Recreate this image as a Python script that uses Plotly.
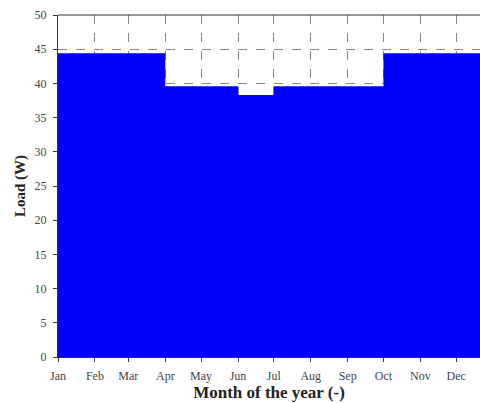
import plotly.graph_objects as go

# Monthly load profile (W), one value per month
months = ["Jan", "Feb", "Mar", "Apr", "May", "Jun",
          "Jul", "Aug", "Sep", "Oct", "Nov", "Dec"]
month_start_day = [0, 31, 59, 90, 120, 151, 181, 212, 243, 273, 304, 334]
year_end_day = 365
load_w = [44.4, 44.4, 44.4, 39.6, 39.6, 38.3,
          39.6, 39.6, 39.6, 44.4, 44.4, 44.4]

y_ticks = list(range(0, 51, 5))

# Step profile: each month's value held until the next month starts
x_steps = month_start_day + [year_end_day]
y_steps = load_w + [load_w[-1]]

fig = go.Figure()
fig.add_trace(go.Scatter(
    x=x_steps, y=y_steps,
    mode="lines",
    line=dict(shape="hv", color="#0000ff", width=0),
    fill="tozeroy",
    fillcolor="#0000ff",
    hoverinfo="skip",
))

serif = "Liberation Serif, DejaVu Serif, serif"

# Top frame line (the right side stays open)
fig.add_shape(type="line", xref="paper", yref="paper",
              x0=0, x1=1, y0=1, y1=1,
              line=dict(color="#333", width=1))

fig.update_layout(
    width=480, height=403,
    margin=dict(l=58, r=0, t=15, b=46),
    paper_bgcolor="white",
    plot_bgcolor="white",
    showlegend=False,
    font=dict(family=serif, size=12, color="#222"),
    xaxis=dict(
        range=[0, 354],
        tickmode="array",
        tickvals=month_start_day,
        ticktext=months,
        ticks="outside", ticklen=4, tickwidth=1, tickcolor="#333",
        ticklabelstandoff=4,
        showline=True, linecolor="#333", linewidth=1, mirror=False,
        showgrid=True, gridcolor="#888", griddash="dash", gridwidth=1,
        zeroline=False,
        tickfont=dict(family=serif, size=12, color="#444"),
        title=dict(text="<b>Month of the year (-)</b>",
                   font=dict(family=serif, size=17, color="#222"),
                   standoff=2),
    ),
    yaxis=dict(
        range=[0, 50],
        tickmode="array",
        tickvals=y_ticks,
        ticks="outside", ticklen=4, tickwidth=1, tickcolor="#333",
        ticklabelstandoff=4,
        showline=True, linecolor="#333", linewidth=1, mirror=False,
        showgrid=True, gridcolor="#888", griddash="dash", gridwidth=1,
        zeroline=False,
        tickfont=dict(family=serif, size=12, color="#444"),
        title=dict(text="<b>Load (W)</b>",
                   font=dict(family=serif, size=15, color="#222"),
                   standoff=5),
    ),
)

fig.write_html("out.html")
